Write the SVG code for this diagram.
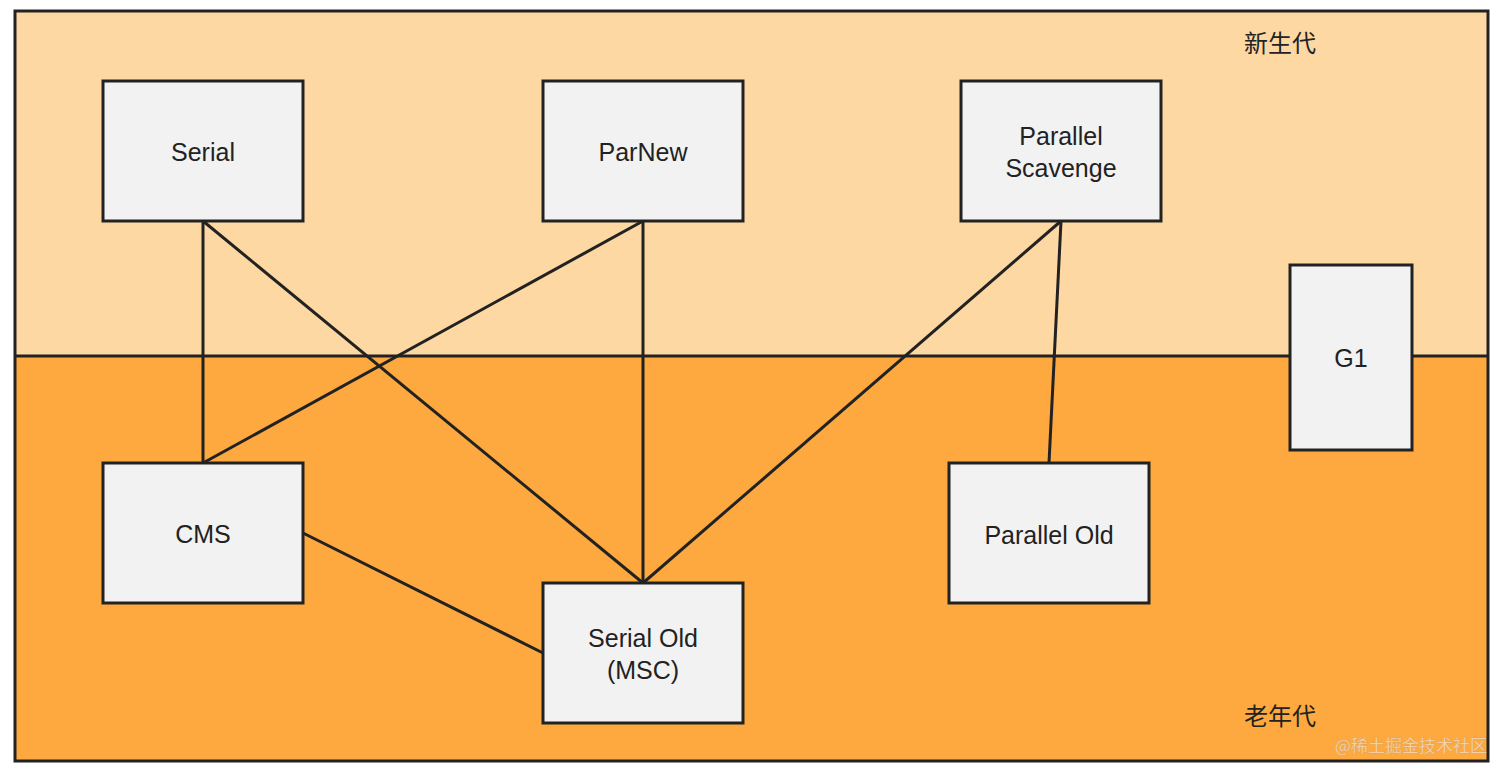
<svg xmlns="http://www.w3.org/2000/svg" width="1512" height="779" viewBox="0 0 1512 779">
<style>
.box{fill:#F2F2F2;stroke:#222;stroke-width:3}
.lbl{font-family:"Liberation Sans","Noto Sans CJK SC",sans-serif;font-size:25px;fill:#222;text-anchor:middle}
.zh{font-family:"Noto Sans CJK SC",sans-serif;font-size:24px;fill:#222;text-anchor:middle}
.ln{stroke:#222;stroke-width:3;fill:none}
</style>
<rect x="0" y="0" width="1512" height="779" fill="#ffffff"/>
<g id="young">
<rect x="15" y="11" width="1473" height="345" fill="#FED8A3"/>
<text class="zh" x="1280" y="52">新生代</text>
</g>
<g id="old">
<rect x="15" y="356" width="1473" height="405" fill="#FDA93F"/>
<text class="zh" x="1280" y="725">老年代</text>
</g>
<rect x="15" y="11" width="1473" height="750" fill="none" stroke="#222" stroke-width="3"/>
<line x1="15" y1="356" x2="1488" y2="356" stroke="#222" stroke-width="3"/>
<g id="connectors">
<line class="ln" x1="203" y1="221" x2="203" y2="463"/>
<line class="ln" x1="203" y1="221" x2="643" y2="583"/>
<line class="ln" x1="643" y1="221" x2="203" y2="463"/>
<line class="ln" x1="643" y1="221" x2="643" y2="583"/>
<line class="ln" x1="1061" y1="221" x2="643" y2="583"/>
<line class="ln" x1="1061" y1="221" x2="1049" y2="463"/>
<line class="ln" x1="303" y1="533" x2="543" y2="653"/>
</g>
<g id="serial"><rect class="box" x="103" y="81" width="200" height="140"/><text class="lbl" x="203" y="161">Serial</text></g>
<g id="parnew"><rect class="box" x="543" y="81" width="200" height="140"/><text class="lbl" x="643" y="161">ParNew</text></g>
<g id="parallel-scavenge"><rect class="box" x="961" y="81" width="200" height="140"/><text class="lbl" x="1061" y="145">Parallel</text><text class="lbl" x="1061" y="177">Scavenge</text></g>
<g id="g1"><rect class="box" x="1290" y="265" width="122" height="185"/><text class="lbl" x="1351" y="367">G1</text></g>
<g id="cms"><rect class="box" x="103" y="463" width="200" height="140"/><text class="lbl" x="203" y="543">CMS</text></g>
<g id="serial-old"><rect class="box" x="543" y="583" width="200" height="140"/><text class="lbl" x="643" y="647">Serial Old</text><text class="lbl" x="643" y="679">(MSC)</text></g>
<g id="parallel-old"><rect class="box" x="949" y="463" width="200" height="140"/><text class="lbl" x="1049" y="544">Parallel Old</text></g>
<text x="1487" y="752" font-family="Noto Sans CJK SC,sans-serif" font-size="17" fill="#ffffff" fill-opacity="0.55" stroke="#888" stroke-opacity="0.35" stroke-width="0.5" text-anchor="end">@稀土掘金技术社区</text>
</svg>
